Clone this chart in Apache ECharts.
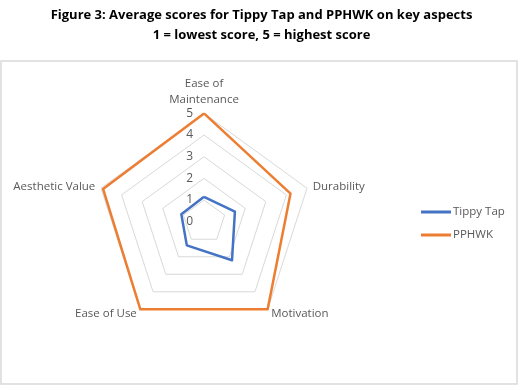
<!DOCTYPE html>
<html><head><meta charset="utf-8">
<script src="https://cdn.jsdelivr.net/npm/echarts@6/dist/echarts.min.js"></script>
<style>html,body{margin:0;padding:0;background:#fff}#c{width:523px;height:390px}</style>
</head><body><div id="c"></div>
<script>
const aspects = ['Ease of\nMaintenance', 'Durability', 'Motivation', 'Ease of Use', 'Aesthetic Value'];
const tippyTap = [1.15, 1.5, 2.2, 1.35, 1.1];
const pphwk = [5, 4.2, 5, 5, 4.9];
const seriesNames = ['Tippy Tap', 'PPHWK'];
const titleLines = ['Figure 3: Average scores for Tippy Tap and PPHWK on key aspects', '1 = lowest score, 5 = highest score'];
const ticks = [0, 1, 2, 3, 4, 5];

// ECharts radar runs counter-clockwise; reorder (keeping the first axis) so the categories go clockwise
const order = [0].concat(aspects.map((_, i) => i).slice(1).reverse());
const cw = arr => order.map(i => arr[i]);

const chart = echarts.init(document.getElementById('c'));
const font = '"Open Sans", "Liberation Sans", sans-serif';
const frame = {
  type: 'rect', shape: {x: 1, y: 61, width: 516, height: 323},
  style: {fill: '#fff', stroke: '#d9d9d9', lineWidth: 1.5}, z: -10
};
chart.setOption({
  animation: false,
  graphic: [frame],
  title: {
    text: titleLines.join('\n'), left: 'center', top: 0, itemGap: 0,
    textStyle: {fontFamily: font, fontWeight: 'bold', fontSize: 13, color: '#000', lineHeight: 20}
  },
  legend: {
    orient: 'vertical', left: 416, top: 201, itemWidth: 30, itemHeight: 3, itemGap: 11,
    icon: 'rect',
    textStyle: {fontFamily: font, fontSize: 11.5, color: '#595959', padding: [0, 0, 0, -3]},
    data: seriesNames
  },
  radar: {
    center: [204, 221.7], radius: 108.3, shape: 'polygon', splitNumber: 5,
    startAngle: 90,
    indicator: cw(aspects).map(n => ({name: n, min: 0, max: 5})),
    axisName: {color: '#595959', fontFamily: font, fontSize: 11.5, lineHeight: 16},
    nameGap: 6,
    splitLine: {lineStyle: {color: '#d9d9d9', width: 1}},
    splitArea: {show: false},
    axisLine: {show: false},
    axisTick: {show: false},
    axisLabel: {show: false}
  },
  series: [{
    type: 'radar', symbol: 'none',
    data: [
      {name: seriesNames[0], value: cw(tippyTap), lineStyle: {color: '#4472C4', width: 2.5}, itemStyle: {color: '#4472C4'}},
      {name: seriesNames[1], value: cw(pphwk), lineStyle: {color: '#ED7D31', width: 2.5}, itemStyle: {color: '#ED7D31'}}
    ]
  }]
});
// radial value labels on the first axis, positioned through the library's own coordinate system
const radar = chart.getModel().getComponent('radar').coordinateSystem;
chart.setOption({
  graphic: [frame].concat(ticks.map(t => {
    const p = radar.dataToPoint(t, 0);
    return {type: 'text', x: p[0] - 11, y: p[1], z: 10,
      style: {text: String(t), fill: '#595959', font: '12px ' + font, align: 'right', verticalAlign: 'middle'}};
  }))
});
</script></body></html>
